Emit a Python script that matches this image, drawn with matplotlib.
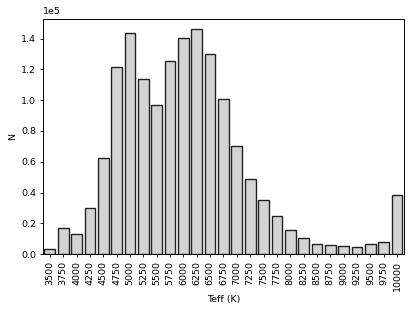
import numpy as np
import matplotlib
matplotlib.use('Agg')
import matplotlib.pyplot as plt

teff = [3500, 3750, 4000, 4250, 4500, 4750, 5000, 5250, 5500, 5750, 6000, 6250, 6500,
        6750, 7000, 7250, 7500, 7750, 8000, 8250, 8500, 8750, 9000, 9250, 9500, 9750, 10000]
counts = [3400, 16700, 12800, 30100, 62300, 121900, 143400, 114100, 97000, 125200, 140200,
          146000, 129800, 100900, 70100, 48800, 35200, 24900, 15600, 10200, 6700, 5900,
          5000, 4800, 6700, 7800, 38600]

fs = 6.8
fig = plt.figure(figsize=(4.15, 3.11), dpi=100)
ax = fig.add_axes([0.104, 0.183, 0.869, 0.757])

x = np.arange(len(teff))
ax.bar(x, counts, width=0.8, color='lightgray', edgecolor='#222222', linewidth=1.0)
ax.set_xlim(-0.5, len(teff) - 0.5)
ax.set_ylim(0, 1.53e5)
ax.set_xticks(x)
ax.set_xticklabels([str(t) for t in teff], rotation=90)
ax.tick_params(labelsize=fs, length=2.5, width=0.6, pad=2.5)
ax.ticklabel_format(axis='y', style='sci', scilimits=(0, 0))
ax.yaxis.get_offset_text().set_fontsize(fs)
for s in ax.spines.values():
    s.set_linewidth(0.7)
ax.set_xlabel('Teff (K)', fontsize=fs, labelpad=3)
ax.set_ylabel('N', fontsize=fs, labelpad=3)

fig.savefig('out.png', dpi=100)
